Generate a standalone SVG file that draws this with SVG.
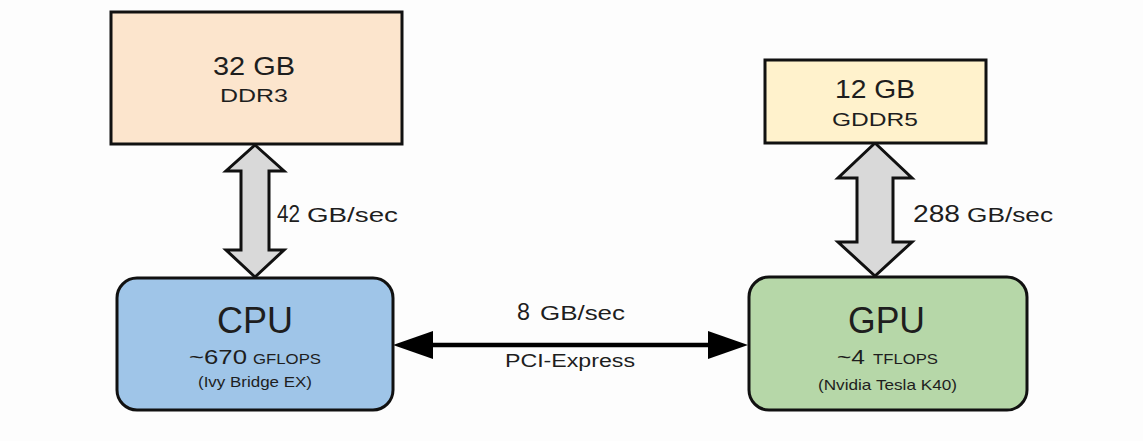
<svg xmlns="http://www.w3.org/2000/svg" width="1143" height="441" viewBox="0 0 1143 441">
<style>
text{font-family:"Liberation Sans",Arial,sans-serif;fill:#1e1e1e}
.box{stroke:#111;stroke-width:3}
.bus{fill:#d9d9d9;stroke:#111;stroke-width:3;stroke-linejoin:miter}
</style>
<rect width="1143" height="441" fill="#fdfdfd"/>
<g id="connectors">
<path class="bus" d="M255,145 L284,171 L269,171 L269,250 L284,250 L255,277 L226,250 L241,250 L241,171 L226,171 Z"/>
<path class="bus" d="M875,143 L912,178 L893,178 L893,242 L912,242 L875,276 L838,242 L857,242 L857,178 L838,178 Z"/>
<line x1="430" y1="345" x2="711" y2="345" stroke="#000" stroke-width="4.5"/>
<path d="M393,345 L433,331 L433,359 Z" fill="#000"/>
<path d="M748,345 L708,331 L708,359 Z" fill="#000"/>
<text x="277" y="222" font-size="24" textLength="23" lengthAdjust="spacingAndGlyphs">42</text>
<text x="307" y="222" font-size="21" textLength="91" lengthAdjust="spacingAndGlyphs">GB/sec</text>
<text x="913" y="222" font-size="24" textLength="47" lengthAdjust="spacingAndGlyphs">288</text>
<text x="967" y="222" font-size="21" textLength="86" lengthAdjust="spacingAndGlyphs">GB/sec</text>
<text x="517" y="320" font-size="24" textLength="13" lengthAdjust="spacingAndGlyphs">8</text>
<text x="540" y="320" font-size="21" textLength="85" lengthAdjust="spacingAndGlyphs">GB/sec</text>
<text x="505" y="367" font-size="18" textLength="130" lengthAdjust="spacingAndGlyphs">PCI-Express</text>
</g>
<g id="ddr3">
<rect class="box" x="111" y="12" width="291" height="132" fill="#fce5cd"/>
<text x="213" y="75" font-size="26" textLength="82" lengthAdjust="spacingAndGlyphs">32 GB</text>
<text x="220" y="102" font-size="19" textLength="68" lengthAdjust="spacingAndGlyphs">DDR3</text>
</g>
<g id="gddr5">
<rect class="box" x="765" y="60" width="221" height="83" fill="#fff2cc"/>
<text x="835" y="98" font-size="26" textLength="80" lengthAdjust="spacingAndGlyphs">12 GB</text>
<text x="832" y="126" font-size="19" textLength="86" lengthAdjust="spacingAndGlyphs">GDDR5</text>
</g>
<g id="cpu">
<rect class="box" x="117" y="278" width="276" height="132" rx="20" fill="#9fc5e8"/>
<text x="217" y="333" font-size="36" textLength="76" lengthAdjust="spacingAndGlyphs">CPU</text>
<text x="189" y="364" font-size="21" textLength="58" lengthAdjust="spacingAndGlyphs">~670</text>
<text x="253" y="364" font-size="14" textLength="68" lengthAdjust="spacingAndGlyphs">GFLOPS</text>
<text x="198" y="387" font-size="15" textLength="114" lengthAdjust="spacingAndGlyphs">(Ivy Bridge EX)</text>
</g>
<g id="gpu">
<rect class="box" x="749" y="277" width="278" height="133" rx="20" fill="#b6d7a8"/>
<text x="848" y="333" font-size="36" textLength="77" lengthAdjust="spacingAndGlyphs">GPU</text>
<text x="837" y="364" font-size="21" textLength="28" lengthAdjust="spacingAndGlyphs">~4</text>
<text x="873" y="364" font-size="14" textLength="65" lengthAdjust="spacingAndGlyphs">TFLOPS</text>
<text x="818" y="390" font-size="15" textLength="139" lengthAdjust="spacingAndGlyphs">(Nvidia Tesla K40)</text>
</g>
</svg>
